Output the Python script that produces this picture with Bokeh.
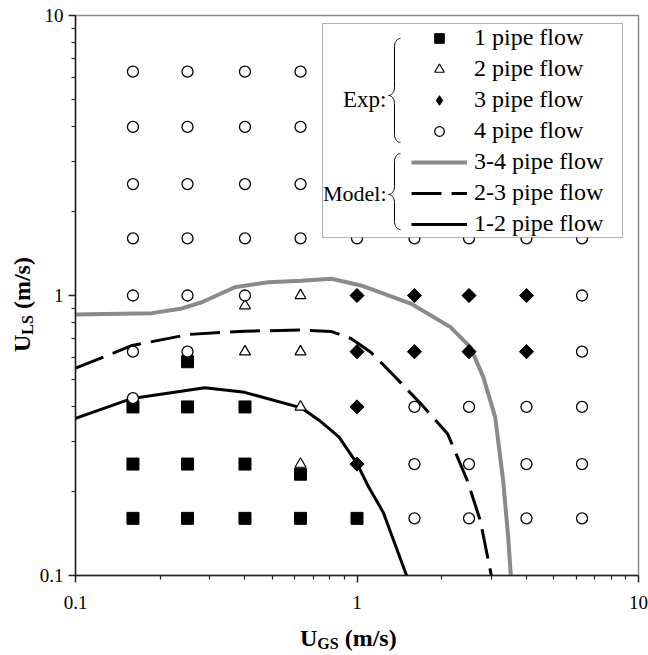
import numpy as np
from bokeh.plotting import figure
from bokeh.models import (Range1d, FixedTicker, Label, Legend, LegendItem,
                          BoxAnnotation, CustomJSTickFormatter, Div)
from bokeh.layouts import row, column
from bokeh.embed import file_html
from bokeh.resources import INLINE

# ---------------- data ----------------
# Experimental points (U_GS, U_LS) in m/s
one_pipe_x = [0.16, 0.16, 0.16, 0.25, 0.25, 0.25, 0.25, 0.4, 0.4, 0.4, 0.63, 0.63, 1.0]
one_pipe_y = [0.40, 0.25, 0.16, 0.58, 0.40, 0.25, 0.16, 0.40, 0.25, 0.16, 0.23, 0.16, 0.16]

two_pipe_x = [0.4, 0.4, 0.63, 0.63, 0.63, 0.63]
two_pipe_y = [0.92, 0.63, 1.0, 0.63, 0.40, 0.25]

three_pipe_x = [1.0, 1.0, 1.0, 1.0, 1.6, 1.6, 2.5, 2.5, 4.0, 4.0]
three_pipe_y = [1.0, 0.63, 0.40, 0.25, 1.0, 0.63, 1.0, 0.63, 1.0, 0.63]

four_pipe_x = [0.16, 0.16, 0.16, 0.16, 0.16, 0.16, 0.16,
               0.25, 0.25, 0.25, 0.25, 0.25, 0.25,
               0.4, 0.4, 0.4, 0.4, 0.4,
               0.63, 0.63, 0.63, 0.63,
               1.0,
               1.6, 1.6, 1.6, 1.6,
               2.5, 2.5, 2.5, 2.5,
               4.0, 4.0, 4.0, 4.0,
               6.3, 6.3, 6.3, 6.3, 6.3, 6.3]
four_pipe_y = [6.3, 4.0, 2.5, 1.6, 1.0, 0.63, 0.43,
               6.3, 4.0, 2.5, 1.6, 1.0, 0.63,
               6.3, 4.0, 2.5, 1.6, 1.0,
               6.3, 4.0, 2.5, 1.6,
               1.6,
               1.6, 0.40, 0.25, 0.16,
               1.6, 0.40, 0.25, 0.16,
               1.6, 0.40, 0.25, 0.16,
               1.6, 1.0, 0.63, 0.40, 0.25, 0.16]

# Model transition boundaries
model_34_x = [0.1, 0.187, 0.239, 0.281, 0.368, 0.484, 0.634, 0.81, 1.033, 1.552,
              2.148, 2.528, 2.81, 3.098, 3.306, 3.444, 3.52]
model_34_y = [0.855, 0.865, 0.899, 0.946, 1.07, 1.116, 1.13, 1.148, 1.086, 0.936,
              0.771, 0.654, 0.511, 0.367, 0.218, 0.137, 0.1]

model_23_x = [0.1, 0.159, 0.253, 0.399, 0.634, 0.809, 0.952, 1.12, 1.351, 1.683,
              2.097, 2.467, 2.742, 3.0]
model_23_y = [0.55, 0.663, 0.726, 0.746, 0.753, 0.744, 0.702, 0.627, 0.518, 0.411,
              0.321, 0.218, 0.157, 0.1]

model_12_x = [0.1, 0.159, 0.288, 0.399, 0.634, 0.735, 0.864, 1.0, 1.10, 1.24, 1.50]
model_12_y = [0.364, 0.429, 0.468, 0.451, 0.397, 0.358, 0.312, 0.251, 0.207, 0.168, 0.1]

major_ticks = [0.1, 1, 10]
minor_ticks = [0.2, 0.3, 0.4, 0.5, 0.6, 0.7, 0.8, 0.9, 2, 3, 4, 5, 6, 7, 8, 9]

legend_labels = ["1 pipe flow", "2 pipe flow", "3 pipe flow", "4 pipe flow",
                 "3-4 pipe flow", "2-3 pipe flow", "1-2 pipe flow"]
group_labels = ["Exp:", "Model:"]
x_title = ("U", "GS", " (m/s)")
y_title = ("U", "LS", " (m/s)")

# ---------------- figure ----------------
FW, FH = 563, 560
SERIF = "Liberation Serif"
YDIV_W = 36
FIG_H = 620
XDIV_H = 35

p = figure(x_axis_type="log", y_axis_type="log",
           x_range=Range1d(0.1, 10), y_range=Range1d(0.1, 10),
           frame_width=FW, frame_height=FH,
           min_border_left=73 - YDIV_W, min_border_right=648 - 73 - FW,
           min_border_top=15, min_border_bottom=FIG_H - 15 - FH,
           output_backend="svg", toolbar_location=None, title=None)

p.xgrid.visible = False
p.ygrid.visible = False
p.outline_line_color = "#8a8a8a"
p.outline_line_width = 1.5
p.background_fill_color = "white"
p.border_fill_color = "white"

fmt = CustomJSTickFormatter(code="return tick.toString();")
for ax in (p.xaxis[0], p.yaxis[0]):
    ax.ticker = FixedTicker(ticks=major_ticks, minor_ticks=minor_ticks)
    ax.formatter = fmt
    ax.axis_line_color = "#222222"
    ax.axis_line_width = 1.5
    ax.major_tick_line_color = "#222222"
    ax.major_tick_line_width = 1.5
    ax.minor_tick_line_color = "#222222"
    ax.minor_tick_line_width = 1.2
    ax.major_tick_in = 0
    ax.major_tick_out = 7
    ax.minor_tick_in = 0
    ax.minor_tick_out = 4
    ax.major_label_text_font = SERIF
    ax.major_label_text_font_size = "19px"
    ax.major_label_text_color = "black"
p.xaxis[0].major_label_standoff = 13
p.yaxis[0].major_label_standoff = 5

# model lines
r34 = p.line(model_34_x, model_34_y, line_color="#8a8a8a", line_width=4)
r23 = p.line(model_23_x, model_23_y, line_color="black", line_width=3, line_dash="30 10")
r12 = p.line(model_12_x, model_12_y, line_color="black", line_width=3)

# experimental markers
r1 = p.scatter(one_pipe_x, one_pipe_y, marker="square", size=12,
               fill_color="black", line_color="black")
r2 = p.scatter(two_pipe_x, two_pipe_y, marker="triangle", size=11,
               fill_color="white", line_color="black", line_width=1.2)
# diamond glyph (used for the legend sample; fully covered by the rotated squares)
r3_leg = p.scatter(three_pipe_x, three_pipe_y, marker="diamond", size=13,
                   fill_color="black", line_color="black")
r3 = p.scatter(three_pipe_x, three_pipe_y, marker="square", angle=np.pi / 4, size=10,
               fill_color="black", line_color="black")
r4 = p.scatter(four_pipe_x, four_pipe_y, marker="circle", size=11,
               fill_color="white", line_color="black", line_width=1.3)


# helpers: frame pixel (from left / from top) -> data coordinates
def fx(px):
    return 10 ** (-1 + 2 * px / FW)


def fy(py):
    return 10 ** (1 - 2 * py / FH)


# legend box
box = BoxAnnotation(left=fx(247), right=fx(547), top=fy(8), bottom=fy(222),
                    fill_color="white", fill_alpha=1.0,
                    line_color="black", line_width=1)
p.add_layout(box)

legend = Legend(items=[LegendItem(label=legend_labels[0], renderers=[r1]),
                       LegendItem(label=legend_labels[1], renderers=[r2]),
                       LegendItem(label=legend_labels[2], renderers=[r3_leg]),
                       LegendItem(label=legend_labels[3], renderers=[r4]),
                       LegendItem(label=legend_labels[4], renderers=[r34]),
                       LegendItem(label=legend_labels[5], renderers=[r23]),
                       LegendItem(label=legend_labels[6], renderers=[r12])],
                location=(334, 336), orientation="vertical",
                glyph_width=56, glyph_height=24, label_height=24, spacing=4,
                padding=2, margin=0, label_standoff=7,
                label_text_font=SERIF, label_text_font_size="24px",
                label_text_color="black",
                border_line_alpha=0, background_fill_alpha=0)
p.add_layout(legend, "center")


def brace(xm, yt, yc, yb, rx=6, ry=8, n=10):
    pts = []

    def arc(cx, cy, a0, a1):
        for t in np.linspace(np.radians(a0), np.radians(a1), n):
            pts.append((cx + rx * np.cos(t), cy - ry * np.sin(t)))
    arc(xm + rx, yt + ry, 90, 180)
    arc(xm - rx, yc - ry, 0, -90)
    arc(xm - rx, yc + ry, 90, 0)
    arc(xm + rx, yb - ry, 180, 270)
    xs = [fx(a) for a, b in pts]
    ys = [fy(b) for a, b in pts]
    return xs, ys


for (yt, yc, yb) in [(23, 80, 127), (138, 179, 214)]:
    bx, by = brace(319, yt, yc, yb)
    p.line(bx, by, line_color="black", line_width=1, level="overlay")

for txt, py, fs in [(group_labels[0], 84, "23px"), (group_labels[1], 178, "22px")]:
    p.add_layout(Label(x=fx(311), y=fy(py), text=txt, text_align="right",
                       text_baseline="middle", text_font=SERIF,
                       text_font_size=fs, text_color="black"))

# ---------------- axis titles (HTML, with subscripts) ----------------
FONT_CSS = ("white-space:nowrap;font-family:'Liberation Serif';font-weight:bold;"
            "font-size:24px;line-height:24px;color:black;")
SUB_CSS = "font-size:16px;position:relative;top:3px;"


def title_html(parts):
    return f'{parts[0]}<span style="{SUB_CSS}">{parts[1]}</span>{parts[2]}'


ydiv = Div(width=YDIV_W, height=FIG_H + XDIV_H, margin=0,
           text=(f'<div style="position:relative;width:{YDIV_W}px;height:{FIG_H + XDIV_H}px;">'
                 f'<div style="position:absolute;left:10px;top:352px;transform:rotate(-90deg);'
                 f'transform-origin:0 0;{FONT_CSS}">{title_html(y_title)}</div></div>'))

xdiv = Div(width=648 - YDIV_W, height=XDIV_H, margin=0,
           text=(f'<div style="position:relative;width:{648 - YDIV_W}px;height:{XDIV_H}px;">'
                 f'<div style="position:absolute;left:{300 - YDIV_W}px;top:6px;{FONT_CSS}">'
                 f'{title_html(x_title)}</div></div>'))

layout = row(ydiv, column(p, xdiv, spacing=0), spacing=0)

open("out.html", "w").write(file_html(layout, INLINE))
